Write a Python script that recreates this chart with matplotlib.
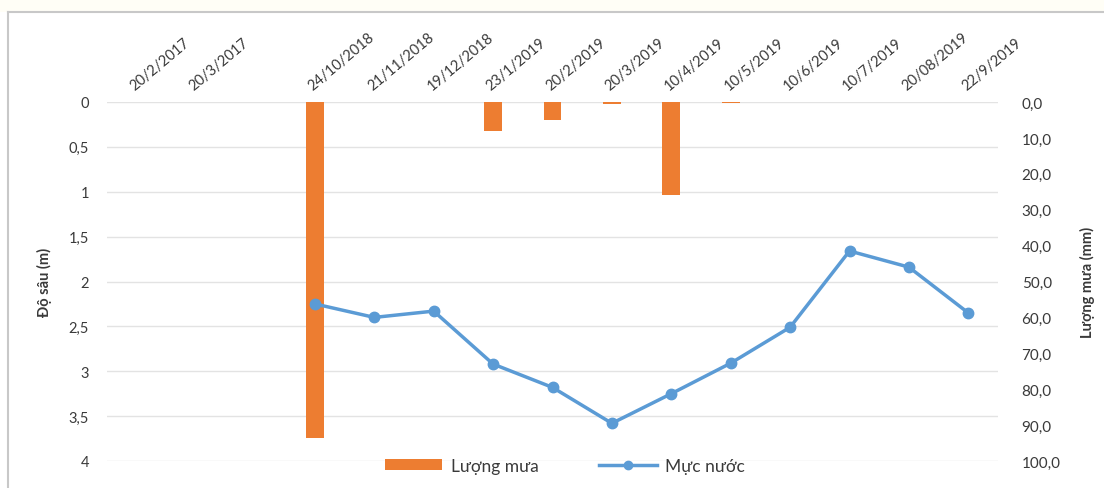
import matplotlib
matplotlib.use("Agg")
import matplotlib.pyplot as plt
from matplotlib.lines import Line2D
from matplotlib.patches import Patch

plt.rcParams['font.family'] = ['Lato', 'DejaVu Sans']

# Sampling dates (one slot has no label)
dates = ["20/2/2017", "20/3/2017", "", "24/10/2018", "21/11/2018", "19/12/2018",
         "23/1/2019", "20/2/2019", "20/3/2019", "10/4/2019", "10/5/2019",
         "10/6/2019", "10/7/2019", "20/08/2019", "22/9/2019"]

# Rainfall (mm), right axis
rain = [None, None, None, 93.5, 0.0, 0.0, 8.2, 5.1, 0.5, 26.0, 0.2,
        0.0, 0.0, 0.0, 0.0]

# Water level depth (m), left axis
depth = [None, None, None, 2.25, 2.40, 2.33, 2.92, 3.18, 3.58, 3.25, 2.91,
         2.51, 1.66, 1.84, 2.35]

depth_ticks = [0, 0.5, 1, 1.5, 2, 2.5, 3, 3.5, 4]
rain_ticks = [0, 10, 20, 30, 40, 50, 60, 70, 80, 90, 100]

ORANGE = "#ED7D31"
BLUE = "#5B9BD5"
TXT = "#3A3A3A"
GRID = "#E3E3E3"

W, H = 1104, 489
fig = plt.figure(figsize=(W / 100, H / 100), dpi=100)
fig.patch.set_facecolor("white")

# Chart frame
fig.add_artist(plt.Rectangle((0, 1 - 13 / H), 1, 13 / H, transform=fig.transFigure,
                             facecolor="#FFFEF6", edgecolor="none", zorder=0))
fig.add_artist(Line2D([8 / W, 1], [1 - 13 / H, 1 - 13 / H], transform=fig.transFigure,
                      color="#C8C8C8", lw=1.5))
fig.add_artist(Line2D([8 / W, 8 / W], [0, 1 - 13 / H], transform=fig.transFigure,
                      color="#C8C8C8", lw=1.5))

left, right = 107 / W, 998 / W
top, bottom = 1 - 103 / H, 1 - 462 / H
ax1 = fig.add_axes([left, bottom, right - left, top - bottom])
ax2 = ax1.twinx()
ax3 = ax1.twinx()

x = list(range(len(dates)))

# Left axis: depth, gridlines
ax1.set_ylim(4, 0)
ax1.set_xlim(-0.5, len(dates) - 0.5)
ax1.set_yticks(depth_ticks)
ax1.set_yticklabels([f"{t:g}".replace(".", ",") for t in depth_ticks])
ax1.grid(axis="y", color=GRID, lw=1)
ax1.set_axisbelow(True)
ax1.set_ylabel("Độ sâu (m)", fontsize=10.5, fontweight="bold", color=TXT, labelpad=12)
ax1.xaxis.tick_top()
ax1.set_xticks(x)
ax1.set_xticklabels(dates, rotation=40, ha="left", va="bottom",
                    rotation_mode="anchor", fontsize=10.5, color=TXT)
ax1.tick_params(axis="x", length=0, pad=7)
ax1.tick_params(axis="y", length=0, pad=13, labelsize=10.5, labelcolor=TXT)

# Right axis: rainfall bars
bx = [i for i, v in zip(x, rain) if v is not None]
bv = [v for v in rain if v is not None]
ax2.bar(bx, bv, width=0.3, color=ORANGE, zorder=2)
ax2.set_ylim(100, 0)
ax2.set_yticks(rain_ticks)
ax2.set_yticklabels([f"{t:.1f}".replace(".", ",") for t in rain_ticks])
ax2.tick_params(axis="y", length=0, pad=17, labelsize=11, labelcolor=TXT)
ax2.set_ylabel("Lượng mưa (mm)", fontsize=10.5, fontweight="bold", color=TXT, labelpad=14)

# Water level line on top
lx = [i for i, v in zip(x, depth) if v is not None]
lv = [v for v in depth if v is not None]
ax3.plot(lx, lv, color=BLUE, lw=2.5, marker="o", ms=7.5, mfc=BLUE, mec=BLUE)
ax3.set_ylim(4, 0)
ax3.set_yticks([])

for a in (ax1, ax2, ax3):
    for s in a.spines.values():
        s.set_visible(False)

handles = [Patch(facecolor=ORANGE, edgecolor="none"),
           Line2D([], [], color=BLUE, lw=2.5, marker="o", ms=6)]
fig.legend(handles, ["Lượng mưa", "Mực nước"], loc="center",
           bbox_to_anchor=(565 / W, 1 - 467 / H), ncol=2, frameon=False,
           fontsize=12.5, labelcolor=TXT, handlelength=3.3, columnspacing=3.5,
           handletextpad=0.5, handleheight=0.6)

fig.savefig("out.png", dpi=100, facecolor="white")
